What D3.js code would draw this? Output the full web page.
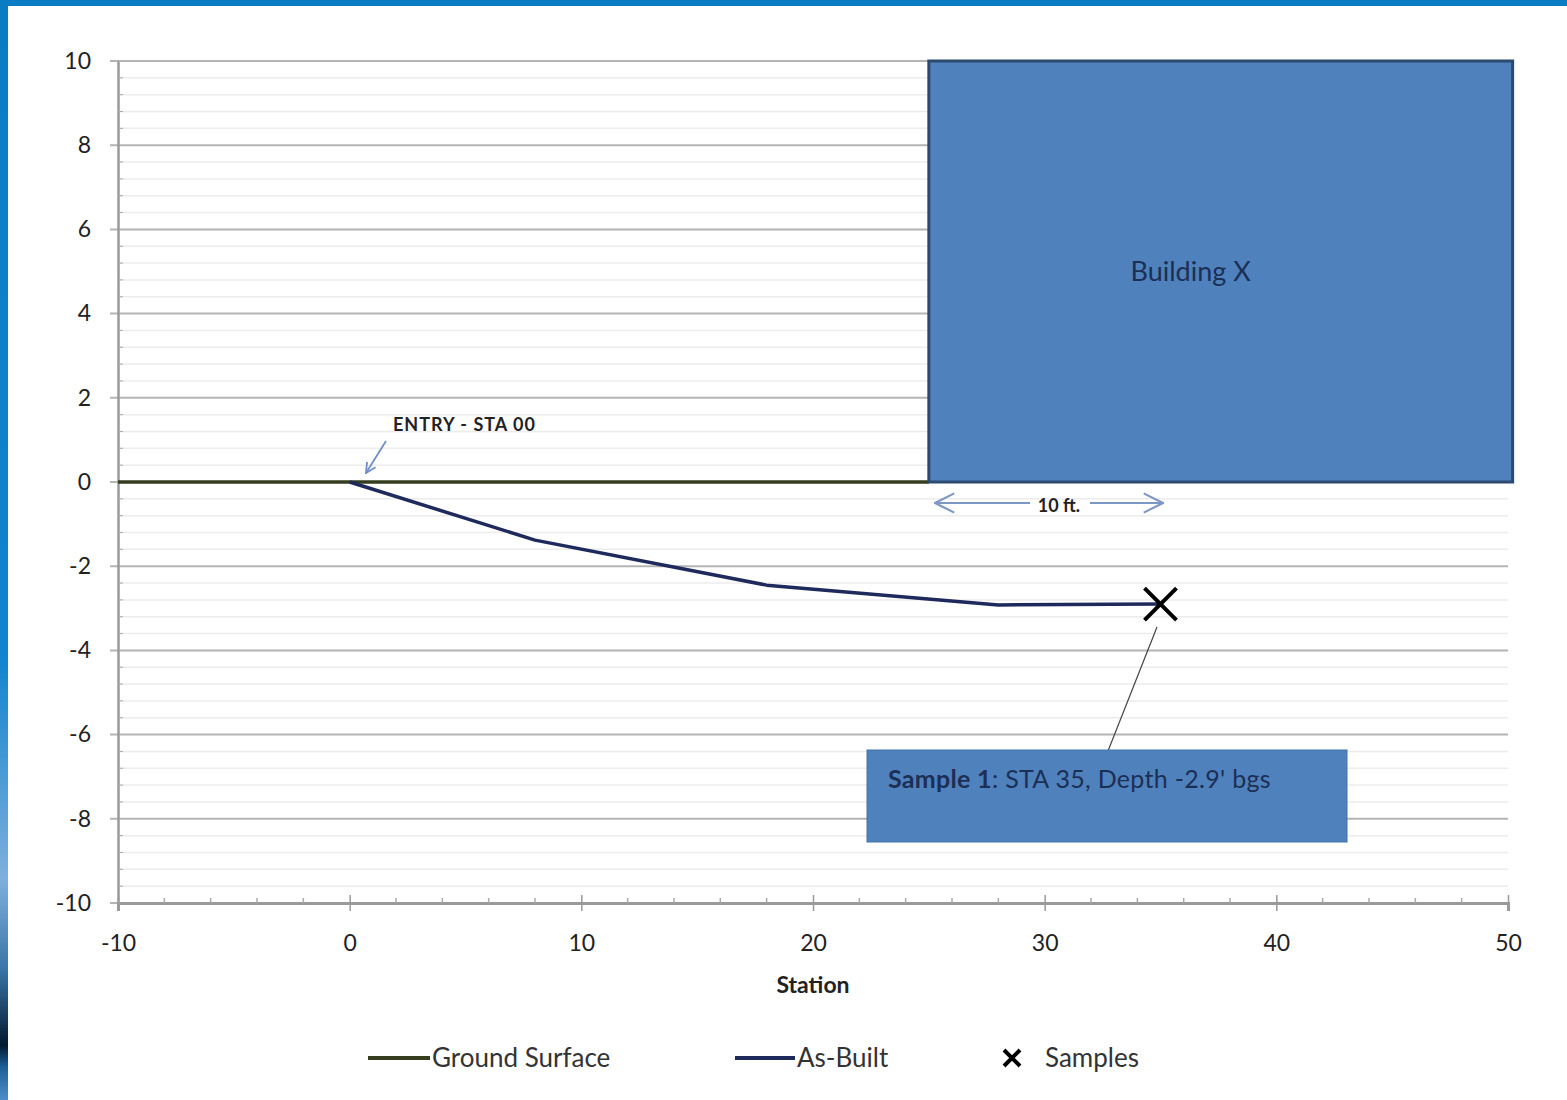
<!DOCTYPE html>
<html><head><meta charset="utf-8">
<script src="https://cdn.jsdelivr.net/npm/d3@7"></script>
<style>html,body{margin:0;padding:0;background:#fff;}svg{display:block;}</style>
</head><body>
<svg id="c" width="1567" height="1100"></svg>
<script>
// ---- data ----
const groundX = [-10, 25];
const groundY = [0, 0];
const asBuiltX = [0, 8, 18, 28, 35];
const asBuiltY = [0, -1.38, -2.45, -2.92, -2.9];
const sampleX = [35];
const sampleY = [-2.9];
const building = {x0: 25, x1: 50.2, y0: 0, y1: 10, label: "Building X", labelX: 36.3, labelY: 5};
const xTicks = [-10, 0, 10, 20, 30, 40, 50];
const yTicks = [10, 8, 6, 4, 2, 0, -2, -4, -6, -8, -10];
const legendLabels = ["Ground Surface", "As-Built", "Samples"];

const svg = d3.select("#c");
const W = 1567, H = 1100;
const x = d3.scaleLinear().domain([-10, 50]).range([118, 1508]);
const y = d3.scaleLinear().domain([-10, 10]).range([903, 61]);
const font = "Lato, 'Open Sans', sans-serif";
const fmt = d => String(d);

// frame
const defs = svg.append("defs");
const lg = defs.append("linearGradient").attr("id","lb").attr("x1",0).attr("y1",0).attr("x2",0).attr("y2",1);
[[0,"#0a7cc4"],[0.6,"#1284cf"],[0.8,"#7fb0dc"],[0.88,"#3a76a8"],[0.95,"#021a30"],[0.97,"#1d5f96"],[1,"#4d8fc8"]]
  .forEach(([o,c])=>lg.append("stop").attr("offset",o).attr("stop-color",c));
svg.append("rect").attr("x",0).attr("y",0).attr("width",W).attr("height",6).attr("fill","#0a7cc4");
svg.append("rect").attr("x",0).attr("y",0).attr("width",8).attr("height",H).attr("fill","url(#lb)");

// minor gridlines
const minorY = d3.range(-10, 10.001, 0.4).filter(v => Math.abs(v/2 - Math.round(v/2)) > 0.01);
svg.append("g").selectAll("line").data(minorY).join("line")
  .attr("x1", x(-10)).attr("x2", x(50)).attr("y1", d=>y(d)).attr("y2", d=>y(d))
  .attr("stroke", "#ececec").attr("stroke-width", 1.5);
// major gridlines
svg.append("g").selectAll("line").data(yTicks).join("line")
  .attr("x1", x(-10)-8).attr("x2", x(50)).attr("y1", d=>y(d)).attr("y2", d=>y(d))
  .attr("stroke", "#b4b4b4").attr("stroke-width", 2);

// y axis
const yAxis = svg.append("g").attr("transform", `translate(${x(-10)},0)`)
  .call(d3.axisLeft(y).tickValues(yTicks).tickSize(0).tickPadding(27).tickFormat(fmt));
yAxis.select(".domain").attr("stroke", "#9a9a9a").attr("stroke-width", 2.5);
yAxis.selectAll("text").attr("font-family", font).attr("font-size", 23).attr("fill", "#222");
// y minor ticks
svg.append("g").selectAll("line").data(minorY).join("line")
  .attr("x1", x(-10)).attr("x2", x(-10)+5).attr("y1", d=>y(d)).attr("y2", d=>y(d))
  .attr("stroke", "#aaa").attr("stroke-width", 1);

// x axis
const xAxis = svg.append("g").attr("transform", `translate(0,${y(-10)})`)
  .call(d3.axisBottom(x).tickValues(xTicks).tickSize(8).tickPadding(24).tickFormat(fmt));
xAxis.select(".domain").attr("stroke", "#9a9a9a").attr("stroke-width", 3);
xAxis.selectAll(".tick line").attr("stroke", "#9a9a9a").attr("stroke-width", 1.5).attr("y1", -8);
xAxis.selectAll("text").attr("font-family", font).attr("font-size", 23).attr("fill", "#222");
const minorX = d3.range(-10, 50.001, 2).filter(v => v % 10 !== 0);
svg.append("g").selectAll("line").data(minorX).join("line")
  .attr("x1", d=>x(d)).attr("x2", d=>x(d)).attr("y1", y(-10)-5).attr("y2", y(-10))
  .attr("stroke", "#aaa").attr("stroke-width", 1.5);
svg.append("text").attr("x", x(20)).attr("y", 993).attr("text-anchor","middle")
  .attr("font-family", font).attr("font-weight","bold").attr("font-size", 23).attr("fill","#222").text("Station");

// ground surface
const line = d3.line().x(d=>x(d[0])).y(d=>y(d[1]));
svg.append("path").datum(groundX.map((v,i)=>[v, groundY[i]])).attr("d", line)
  .attr("fill","none").attr("stroke","#343d1e").attr("stroke-width",3.5);

// building
svg.append("rect").attr("x", x(building.x0)).attr("y", y(building.y1))
  .attr("width", x(building.x1)-x(building.x0)).attr("height", y(building.y0)-y(building.y1))
  .attr("fill","#4f81bd").attr("stroke","#2a4a70").attr("stroke-width",3);
svg.append("text").attr("x", x(building.labelX)).attr("y", y(building.labelY)+9).attr("text-anchor","middle")
  .attr("font-family", font).attr("font-size", 27).attr("fill","#1c2f55").text(building.label);

// as-built
svg.append("path").datum(asBuiltX.map((v,i)=>[v, asBuiltY[i]])).attr("d", line)
  .attr("fill","none").attr("stroke","#1f2a5c").attr("stroke-width",3.5).attr("stroke-linejoin","round");

// samples
const xMark = (g, cx, cy, r, w) => {
  g.append("path").attr("d", `M${cx-r},${cy-r}L${cx+r},${cy+r}M${cx-r},${cy+r}L${cx+r},${cy-r}`)
   .attr("stroke","#000").attr("stroke-width",w).attr("fill","none");
};
const sg = svg.append("g");
sampleX.forEach((v,i)=>xMark(sg, x(v), y(sampleY[i]), 16, 4));

// arrow markers
defs.append("marker").attr("id","ah").attr("viewBox","0 0 12 12").attr("refX",11).attr("refY",6)
  .attr("markerWidth",12).attr("markerHeight",12).attr("markerUnits","userSpaceOnUse").attr("orient","auto")
  .append("path").attr("d","M1,1L11,6L1,11").attr("fill","none").attr("stroke","#6f8fc6").attr("stroke-width",1.8);
defs.append("marker").attr("id","ah2").attr("viewBox","0 0 16 16").attr("refX",15).attr("refY",8)
  .attr("markerWidth",22).attr("markerHeight",22).attr("markerUnits","userSpaceOnUse").attr("orient","auto")
  .append("path").attr("d","M1,1L15,8L1,15").attr("fill","none").attr("stroke","#7d98c8").attr("stroke-width",1.6);

// entry annotation
svg.append("text").attr("x", 393).attr("y", 431).attr("font-family", font).attr("font-weight","bold")
  .attr("font-size", 18).attr("letter-spacing", 1).attr("fill","#222").text("ENTRY - STA 00");
svg.append("line").attr("x1", 386).attr("y1", 441).attr("x2", 366).attr("y2", 473)
  .attr("stroke","#6f8fc6").attr("stroke-width",1.8).attr("marker-end","url(#ah)");

// 10 ft annotation
svg.append("text").attr("x", 1059).attr("y", 512).attr("text-anchor","middle").attr("font-family", font)
  .attr("font-weight","bold").attr("font-size", 18).attr("fill","#222").text("10 ft.");
svg.append("line").attr("x1", 1030).attr("y1", 503).attr("x2", 935).attr("y2", 503)
  .attr("stroke","#7d98c8").attr("stroke-width",2).attr("marker-end","url(#ah2)");
svg.append("line").attr("x1", 1090).attr("y1", 503).attr("x2", 1163).attr("y2", 503)
  .attr("stroke","#7d98c8").attr("stroke-width",2).attr("marker-end","url(#ah2)");

// sample callout
svg.append("line").attr("x1", 1157).attr("y1", 627).attr("x2", 1108).attr("y2", 751)
  .attr("stroke","#444").attr("stroke-width",1.2);
svg.append("rect").attr("x",867).attr("y",750).attr("width",480).attr("height",92)
  .attr("fill","#4f81bd").attr("stroke","#4472a8").attr("stroke-width",1);
const ct = svg.append("text").attr("x", 888).attr("y", 788).attr("font-family", font)
  .attr("font-size", 25).attr("letter-spacing", 0.3).attr("fill","#1c2f55");
ct.append("tspan").attr("font-weight","bold").text("Sample 1");
ct.append("tspan").text(": STA 35, Depth -2.9' bgs");

// legend
const lgY = 1058;
const leg = svg.append("g").attr("font-family", font).attr("font-size", 26).attr("fill","#333");
leg.append("line").attr("x1",368).attr("x2",430).attr("y1",lgY).attr("y2",lgY).attr("stroke","#343d1e").attr("stroke-width",4);
leg.append("text").attr("x",432).attr("y",lgY+9).text(legendLabels[0]);
leg.append("line").attr("x1",735).attr("x2",795).attr("y1",lgY).attr("y2",lgY).attr("stroke","#1f2a5c").attr("stroke-width",4);
leg.append("text").attr("x",797).attr("y",lgY+9).text(legendLabels[1]);
xMark(leg, 1012, lgY, 8, 4);
leg.append("text").attr("x",1045).attr("y",lgY+9).text(legendLabels[2]);
</script>
</body></html>
